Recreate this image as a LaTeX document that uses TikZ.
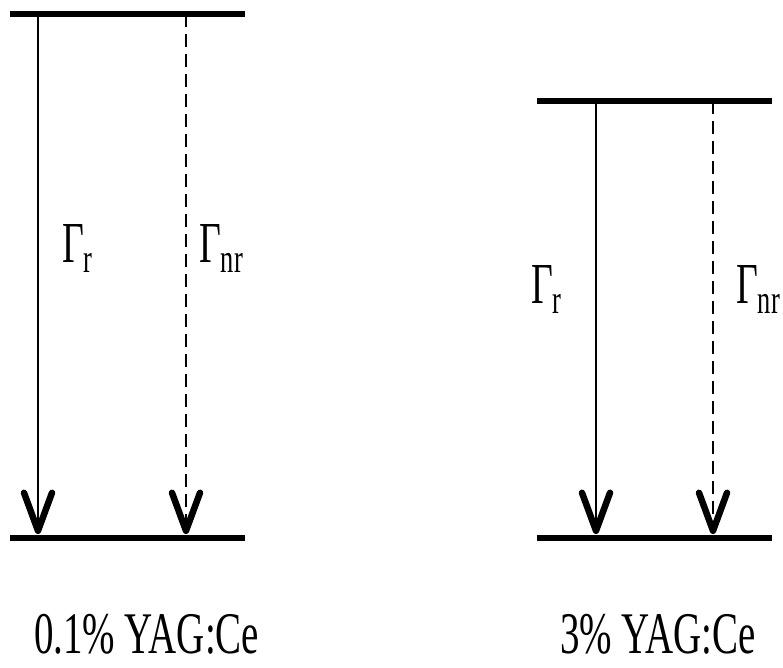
\documentclass[tikz,border=0pt]{standalone}
\usepackage{fontspec}
\setmainfont{Liberation Serif}
\usetikzlibrary{arrows.meta}

\begin{document}
\begin{tikzpicture}[x=1pt, y=-1pt,
    level/.style={line width=6.5pt},
    decay/.style={line width=2.8pt, -{Straight Barb[length=38pt, width=28pt, line width=6.5pt, round]}},
    nonrad/.style={decay, dash pattern=on 13pt off 7pt},
    rate/.style={font=\fontsize{58}{64}\selectfont, xscale=0.65, inner sep=0pt, anchor=base west},
    sample/.style={font=\fontsize{59}{64}\selectfont, xscale=0.66, inner sep=0pt, anchor=base west},
]
\useasboundingbox (0,0) rectangle (783,667);

% 0.1% YAG:Ce
\coordinate (lowA1) at (10,14);   \coordinate (lowA2) at (245,14);
\coordinate (lowB1) at (10,538);  \coordinate (lowB2) at (245,538);
\draw[level] (lowA1) -- (lowA2);
\draw[level] (lowB1) -- (lowB2);
\coordinate (lowRtop) at (38,14);  \coordinate (lowRbot) at (38,534);
\coordinate (lowNtop) at (186,14); \coordinate (lowNbot) at (186,534);
\draw[decay] (lowRtop) -- (lowRbot);
\draw[nonrad] (lowNtop) -- (lowNbot);
\node[rate] (lowR) at (62,262) {Γ\textsubscript{r}};
\node[rate] (lowN) at (199,262) {Γ\textsubscript{nr}};
\node[sample] (lowS) at (34,653) {0.1\% YAG:Ce};

% 3% YAG:Ce
\coordinate (highA1) at (537,101); \coordinate (highA2) at (772,101);
\coordinate (highB1) at (537,538); \coordinate (highB2) at (772,538);
\draw[level] (highA1) -- (highA2);
\draw[level] (highB1) -- (highB2);
\coordinate (highRtop) at (596,101); \coordinate (highRbot) at (596,534);
\coordinate (highNtop) at (713,101); \coordinate (highNbot) at (713,534);
\draw[decay] (highRtop) -- (highRbot);
\draw[nonrad] (highNtop) -- (highNbot);
\node[rate] (highR) at (531,303) {Γ\textsubscript{r}};
\node[rate] (highN) at (736,303) {Γ\textsubscript{nr}};
\node[sample] (highS) at (560,653) {3\% YAG:Ce};
\end{tikzpicture}
\end{document}
